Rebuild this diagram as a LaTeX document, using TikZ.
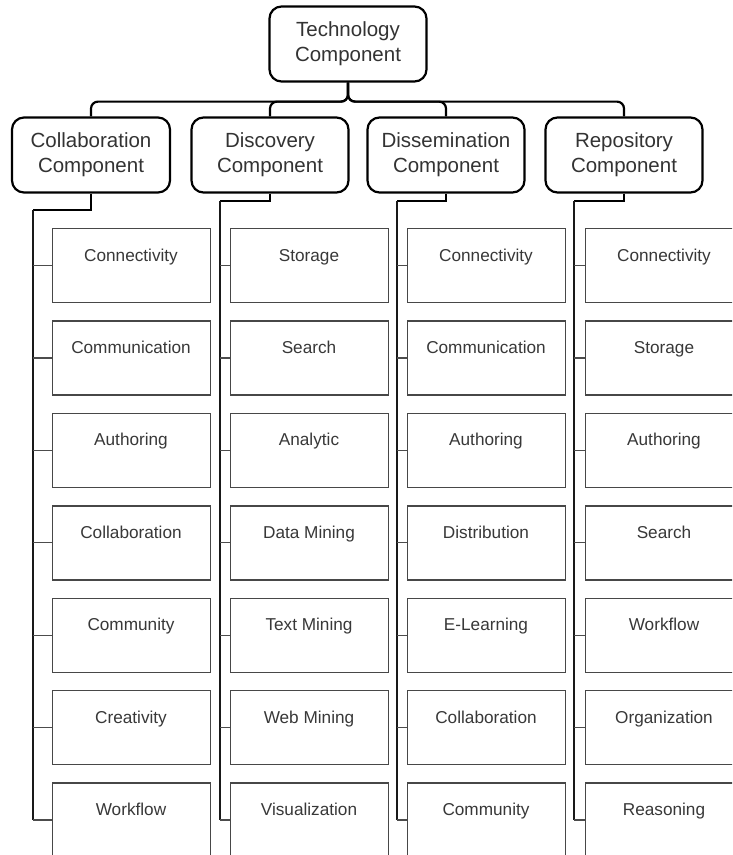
\documentclass[tikz,border=0pt]{standalone}
\usepackage{fontspec}
\setmainfont{Liberation Sans}
\begin{document}
\begin{tikzpicture}[x=1pt,y=-1pt,
  comp/.style={draw=black, line width=2.2pt, rounded corners=12pt, minimum width=157pt, minimum height=75pt, align=center, font=\fontsize{20.5}{25}\selectfont, text=black!80, inner sep=0pt},
  leaf/.style={draw=black!72, line width=1.3pt, minimum width=158pt, minimum height=74pt, inner sep=0pt, anchor=north west},
  leaftext/.style={font=\fontsize{17.2}{20}\selectfont, text=black!78, anchor=base, inner sep=0pt},
  conn/.style={line width=2.2pt, black},
  colline/.style={line width=1.9pt, black!90},
  tick/.style={line width=1.2pt, black!70}]
\useasboundingbox (0,0) rectangle (732,855);
\clip (0,0) rectangle (732,855);
\fill[white] (0,0) rectangle (732,855);

% top and component nodes
\node[comp] (tech) at (348,44) {Technology\\Component};
\node[comp, minimum width=158pt] (coll) at (91,155) {Collaboration\\Component};
\node[comp] (disc) at (270,155) {Discovery\\Component};
\node[comp] (diss) at (446,155) {Dissemination\\Component};
\node[comp] (repo) at (624,155) {Repository\\Component};

\foreach \c in {coll,disc,diss,repo}
  \draw[conn, rounded corners=7pt] (tech.south) -- ++(0,19) -| (\c.north);

% leaf boxes
\foreach \lab [count=\i from 0] in {Connectivity,Communication,Authoring,Collaboration,Community,Creativity,Workflow} {
  \node[leaf] (a\i) at (52,{228+92.4*\i}) {};
  \node[leaftext] (at\i) at (131,{261+92.4*\i}) {\lab};
}
\foreach \lab [count=\i from 0] in {Storage,Search,Analytic,Data Mining,Text Mining,Web Mining,Visualization} {
  \node[leaf] (b\i) at (230,{228+92.4*\i}) {};
  \node[leaftext] (bt\i) at (309,{261+92.4*\i}) {\lab};
}
\foreach \lab [count=\i from 0] in {Connectivity,Communication,Authoring,Distribution,E-Learning,Collaboration,Community} {
  \node[leaf] (c\i) at (407,{228+92.4*\i}) {};
  \node[leaftext] (ct\i) at (486,{261+92.4*\i}) {\lab};
}
\foreach \lab [count=\i from 0] in {Connectivity,Storage,Authoring,Search,Workflow,Organization,Reasoning} {
  \node[leaf] (d\i) at (585,{228+92.4*\i}) {};
  \node[leaftext] (dt\i) at (664,{261+92.4*\i}) {\lab};
}

% column connectors
\coordinate (atop) at (33,210);
\coordinate (btop) at (220,201);
\coordinate (ctop) at (397,201);
\coordinate (dtop) at (574,201);
\draw[conn] (coll.south) |- (atop);
\draw[conn] (disc.south) |- (btop);
\draw[conn] (diss.south) |- (ctop);
\draw[conn] (repo.south) |- (dtop);
\foreach \k in {a,b,c,d} {
  \draw[colline] (\k top) -- (\k top |- \k6.west);
  \draw[tick] (\k top |- \k6.west) -- (\k6.west);
  \foreach \i in {0,...,5}
    \draw[tick] (\k top |- \k\i.west) -- (\k\i.west);
}
\end{tikzpicture}
\end{document}
